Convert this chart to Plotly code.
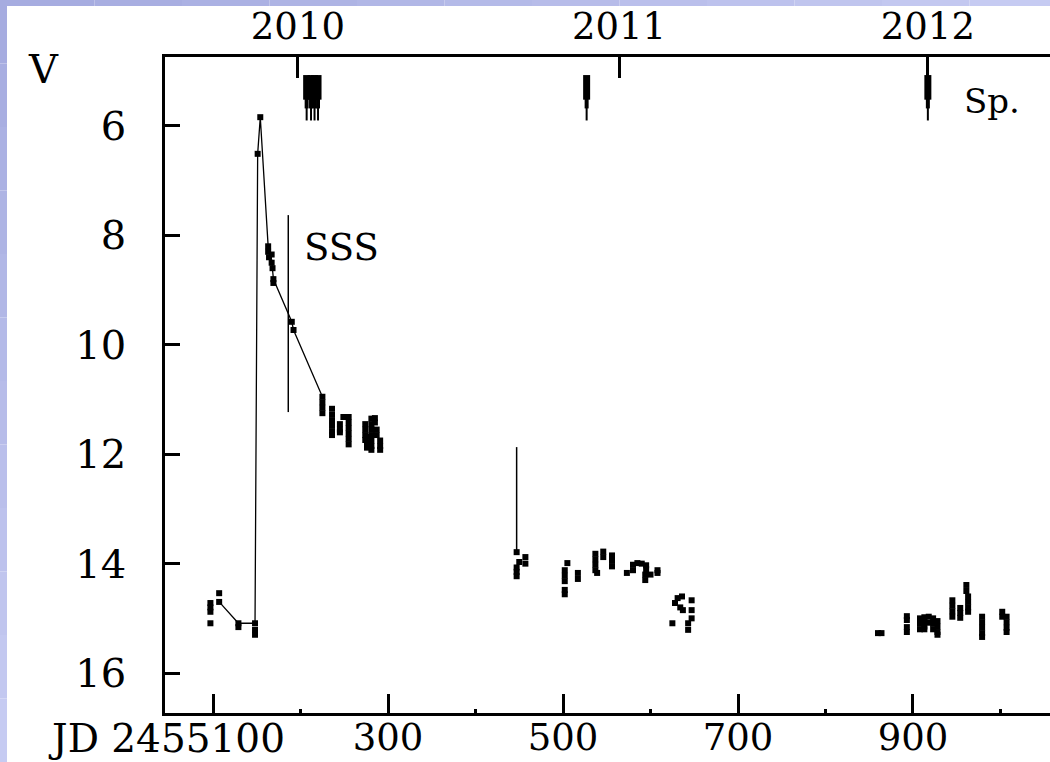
import plotly.graph_objects as go

# V-band photometry, time axis in JD - 2455000
jd_obs = [
    97, 97, 97, 97, 107, 107, 129, 129, 148, 148, 148,
    151, 154, 163, 163, 164, 167, 167, 168, 169, 169, 190, 192,
    225, 225, 225, 225,
    236, 236, 236, 236, 236, 236,
    245, 245, 245, 249,
    255, 255, 255, 255, 255, 255,
    274, 274, 274, 274, 276, 276, 276,
    281, 281, 281, 281, 281, 281, 281,
    285, 285, 287, 287, 291, 291, 291,
    447, 447, 447, 447, 450, 457, 457,
    502, 502, 502, 502, 502, 505, 517, 517,
    537, 537, 537, 537, 539, 546, 546, 556, 556, 556,
    573, 580, 580, 585, 590, 594, 594, 595, 595, 600, 608, 608,
    625, 628, 631, 634, 636, 637, 643, 643, 647, 647, 647,
    860, 864, 893, 893, 893, 893,
    908, 908, 908, 913, 913, 913, 913, 918, 918, 923, 923, 923,
    928, 928, 928, 928,
    945, 945, 945, 945, 954, 954, 954,
    961, 961, 963, 963, 963, 963,
    979, 979, 979, 979, 979,
    1002, 1002, 1007, 1007, 1007, 1007,
]
v_obs = [
    14.72, 14.80, 14.88, 15.09, 14.54, 14.70, 15.09, 15.16, 15.09, 15.21, 15.30,
    6.51, 5.84, 8.20, 8.30, 8.40, 8.35, 8.50, 8.60, 8.80, 8.87, 9.58, 9.73,
    10.95, 11.05, 11.15, 11.25,
    11.17, 11.28, 11.38, 11.48, 11.58, 11.65,
    11.45, 11.55, 11.60, 11.32,
    11.32, 11.42, 11.52, 11.62, 11.72, 11.82,
    11.45, 11.55, 11.65, 11.74, 11.68, 11.78, 11.88,
    11.35, 11.45, 11.55, 11.65, 11.75, 11.85, 11.92,
    11.34, 11.42, 11.55, 11.65, 11.75, 11.85, 11.92,
    13.79, 14.07, 14.15, 14.23, 13.97, 13.88, 14.00,
    14.12, 14.22, 14.32, 14.48, 14.56, 13.99, 14.17, 14.28,
    13.82, 13.92, 14.02, 14.12, 14.17, 13.78, 13.88, 13.85, 13.95, 14.05,
    14.17, 14.02, 14.12, 13.99, 14.00, 14.20, 14.30, 14.03, 14.10, 14.20, 14.12, 14.17,
    15.09, 14.72, 14.63, 14.80, 14.60, 14.85, 15.09, 15.21, 14.67, 14.85, 15.00,
    15.27, 15.27, 14.96, 15.03, 15.16, 15.25,
    15.00, 15.10, 15.20, 14.98, 15.05, 15.15, 15.20, 14.97, 15.08, 15.00, 15.10, 15.20,
    15.05, 15.15, 15.25, 15.30,
    14.67, 14.77, 14.87, 14.97, 14.81, 14.90, 14.99,
    14.39, 14.50, 14.60, 14.70, 14.80, 14.88,
    14.97, 15.07, 15.17, 15.27, 15.34,
    14.88, 14.97, 14.97, 15.07, 15.17, 15.25,
]

# Light curve joined through the 2009 outburst
jd_curve = [107, 129, 148, 151, 154, 163, 167, 169, 190, 192, 225]
v_curve = [14.70, 15.09, 15.09, 6.51, 5.84, 8.20, 8.45, 8.80, 9.58, 9.73, 10.95]

# Rise of the second flare
jd_flare = [447, 447]
v_flare = [11.87, 13.79]

# Super-soft source (SSS) phase bar
jd_sss = [186, 186]
v_sss = [7.63, 11.23]

# Epochs of spectroscopic observations
jd_spec = [207, 212, 216, 220, 527, 917]

# Calendar years along the top
jd_year = [197, 564, 917]
year_labels = ["2010", "2011", "2012"]

# Bottom axis ticks
x_major = [100, 300, 500, 700, 900]
x_major_labels = ["", "300", "500", "700", "900"]
x_minor = [200, 400, 600, 800, 1000]
y_ticks = [6, 8, 10, 12, 14, 16]

X_RANGE = [45.1, 1056.6]
Y_RANGE = [16.73, 4.74]
FONT = "DejaVu Serif"


def arrow_segments(v_top, v_bottom):
    xs, ys = [], []
    for j in jd_spec:
        xs += [j, j, None]
        ys += [v_top, v_bottom, None]
    return xs, ys


fig = go.Figure()

fig.add_trace(go.Scatter(
    x=jd_curve, y=v_curve, mode="lines",
    line=dict(color="black", width=1.3), hoverinfo="skip"))
fig.add_trace(go.Scatter(
    x=jd_flare, y=v_flare, mode="lines",
    line=dict(color="black", width=1.5), hoverinfo="skip"))
fig.add_trace(go.Scatter(
    x=jd_sss, y=v_sss, mode="lines",
    line=dict(color="black", width=1.5), hoverinfo="skip"))
fig.add_trace(go.Scatter(
    x=jd_obs, y=v_obs, mode="markers",
    marker=dict(symbol="square", size=6, color="black", line=dict(width=0))))

# Spectroscopy arrows: wide shaft tapering into a thin tip
for v0, v1, w in [(5.07, 5.52, 7), (5.50, 5.68, 4), (5.65, 5.90, 2)]:
    xs, ys = arrow_segments(v0, v1)
    fig.add_trace(go.Scatter(
        x=xs, y=ys, mode="lines", xaxis="x2",
        line=dict(color="black", width=w), hoverinfo="skip"))

# Slide-style tinted border along the top and left edges
shapes = []
n = 12
for i in range(n):
    t = i / (n - 1)
    r = int(166 + (198 - 166) * t)
    g = int(172 + (203 - 172) * t)
    b = int(224 + (242 - 224) * t)
    shapes.append(dict(
        type="rect", xref="paper", yref="paper", layer="above",
        x0=(7 - 165) / 885 + (1050 / 885) * i / n,
        x1=(7 - 165) / 885 + (1050 / 885) * (i + 1) / n,
        y0=(713 - 6) / 656, y1=713 / 656,
        fillcolor=f"rgb({r},{g},{b})", line=dict(width=0)))
    shapes.append(dict(
        type="rect", xref="paper", yref="paper", layer="above",
        x0=-165 / 885, x1=(7 - 165) / 885,
        y0=713 / 656 - (762 / 656) * (i + 1) / n,
        y1=713 / 656 - (762 / 656) * i / n,
        fillcolor=f"rgb({r},{g},{b})", line=dict(width=0)))

annotations = [
    dict(text="V", xref="paper", yref="paper",
         x=(43 - 165) / 885, y=(713 - 69) / 656,
         xanchor="center", yanchor="middle", showarrow=False,
         font=dict(family=FONT, size=40, color="black")),
    dict(text="SSS", xref="x", yref="y", x=201.5, y=8.23,
         xanchor="left", yanchor="middle", showarrow=False,
         font=dict(family=FONT, size=37, color="black")),
    dict(text="Sp.", xref="x", yref="y", x=956, y=5.55,
         xanchor="left", yanchor="middle", showarrow=False,
         font=dict(family=FONT, size=34, color="black")),
    dict(text="JD 2455100", xref="paper", yref="paper",
         x=(287 - 165) / 885, y=(713 - 738) / 656,
         xanchor="right", yanchor="middle", showarrow=False,
         font=dict(family=FONT, size=39, color="black")),
]

axis_common = dict(
    showgrid=False, zeroline=False, showline=True, automargin=False,
    linecolor="black", linewidth=2.5,
    ticks="inside", tickcolor="black", tickwidth=2.5,
)

fig.update_layout(
    width=1050, height=762,
    margin=dict(l=165, r=0, t=57, b=49, autoexpand=False),
    paper_bgcolor="white", plot_bgcolor="white",
    showlegend=False,
    font=dict(family=FONT, color="black"),
    xaxis=dict(
        **axis_common, range=X_RANGE,
        tickvals=x_major, ticktext=x_major_labels, ticklen=19,
        ticklabelstandoff=-10,
        tickfont=dict(family=FONT, size=37),
        minor=dict(tickvals=x_minor, ticks="inside", ticklen=4,
                   tickwidth=2.5, tickcolor="black"),
    ),
    xaxis2=dict(
        **axis_common, range=X_RANGE, overlaying="x", side="top",
        anchor="y", tickvals=jd_year, ticktext=year_labels, ticklen=21,
        tickfont=dict(family=FONT, size=37),
    ),
    yaxis=dict(
        **axis_common, range=Y_RANGE,
        tickvals=y_ticks, ticklen=15, ticklabelstandoff=28,
        tickfont=dict(family=FONT, size=40),
    ),
    shapes=shapes,
    annotations=annotations,
)

fig.write_html("out.html")
